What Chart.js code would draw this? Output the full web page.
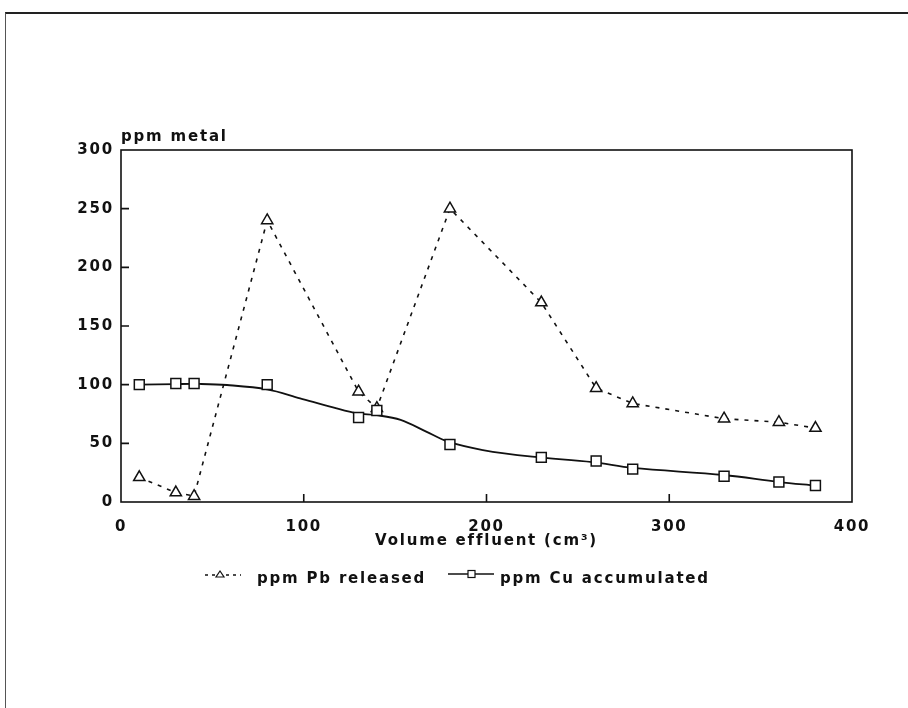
<!DOCTYPE html>
<html>
<head>
<meta charset="utf-8">
<script src="https://cdn.jsdelivr.net/npm/chart.js@4.4.1/dist/chart.umd.min.js"></script>
<style>
  html, body { margin: 0; padding: 0; background: #fff; }
  #wrap { position: relative; width: 908px; height: 708px; overflow: hidden;
          font-family: 'DejaVu Sans', Verdana, sans-serif; font-weight: bold; color: #111; }
  #frame { position: absolute; left: 5px; top: 12px; width: 920px; height: 720px;
           border-top: 2px solid #222; border-left: 1px solid #555; }
  canvas { position: absolute; left: 0; top: 0; }
  .txt { position: absolute; font-size: 15px; line-height: 16px; letter-spacing: 1.8px; white-space: nowrap; }
  .ico { position: absolute; }
</style>
</head>
<body>
<div id="wrap">
  <div id="frame"></div>
  <canvas id="chart" width="908" height="708"></canvas>
  <div class="txt" style="left:121px; top:128px;">ppm metal</div>

  <svg class="ico" style="left:203px; top:567px;" width="40" height="14">
    <line x1="2" y1="8" x2="38" y2="8" stroke="#111" stroke-width="1.3" stroke-dasharray="3,4"/>
    <path d="M17 4 L21 10 L13 10 Z" fill="#fff" stroke="#111" stroke-width="1.2"/>
  </svg>
  <div class="txt" style="left:257px; top:570px;">ppm Pb released</div>

  <svg class="ico" style="left:447px; top:567px;" width="48" height="14">
    <line x1="1" y1="7" x2="47" y2="7" stroke="#111" stroke-width="1.6"/>
    <rect x="21" y="3.5" width="7" height="7" fill="#fff" stroke="#111" stroke-width="1.2"/>
  </svg>
  <div class="txt" style="left:500px; top:570px;">ppm Cu accumulated</div>
</div>

<script>
// Volume effluent (cm3) at each sample
const volume = [10, 30, 40, 80, 130, 140, 180, 230, 260, 280, 330, 360, 380];
// ppm Pb released (triangles, dashed)
const pbReleased = [21, 8, 5, 240, 94, 80, 250, 170, 97, 84, 71, 68, 63];
// ppm Cu accumulated (squares)
const cuAccumulated = [100, 101, 101, 100, 72, 78, 49, 38, 35, 28, 22, 17, 14];
// smooth fitted curve drawn through the Cu data
const cuFitVolume = [10, 30, 43, 58, 80, 98, 116, 129, 140, 153, 167, 179, 198, 225, 258, 280, 330, 360, 380];
const cuFit = [100, 100.5, 100.6, 99.7, 96, 88.4, 80.7, 75.6, 74, 70, 60, 51.4, 44.3, 38.6, 34, 29, 23, 17, 14];

const xTicks = [0, 100, 200, 300, 400];
const yTicks = [0, 50, 100, 150, 200, 250, 300];

const ink = '#111';
const font = { family: "'DejaVu Sans', Verdana, sans-serif", size: 15, weight: 'bold' };

function pts(xs, ys) {
    return xs.map((x, i) => ({ x, y: ys[i] }));
}

// wide spacing of the old plotter lettering
const spacing = {
    id: 'spacing',
    beforeLayout(chart) { chart.ctx.letterSpacing = '1.8px'; },
    beforeDraw(chart) { chart.ctx.letterSpacing = '1.8px'; }
};

// plot box + ticks pointing inward
const frameTicks = {
    id: 'frameTicks',
    beforeDatasetsDraw(chart) {
        const { ctx, chartArea: a, scales: { x, y } } = chart;
        ctx.save();
        ctx.strokeStyle = ink;
        ctx.lineWidth = 1.6;
        ctx.strokeRect(a.left, a.top, a.right - a.left, a.bottom - a.top);
        ctx.beginPath();
        xTicks.slice(1, -1).forEach(v => {
            const px = x.getPixelForValue(v);
            ctx.moveTo(px, a.bottom);
            ctx.lineTo(px, a.bottom - 8);
        });
        yTicks.slice(1, -1).forEach(v => {
            const py = y.getPixelForValue(v);
            ctx.moveTo(a.left, py);
            ctx.lineTo(a.left + 8, py);
        });
        ctx.stroke();
        ctx.restore();
    }
};

new Chart(document.getElementById('chart'), {
    type: 'scatter',
    data: {
        datasets: [
            {
                label: 'ppm Pb released',
                data: pts(volume, pbReleased),
                showLine: true,
                borderColor: ink,
                borderWidth: 1.6,
                borderDash: [4, 6],
                pointStyle: 'triangle',
                pointRadius: 6.5,
                pointBorderWidth: 1.5,
                pointBackgroundColor: '#fff',
                pointBorderColor: ink,
                order: 2
            },
            {
                label: 'ppm Cu accumulated',
                data: pts(volume, cuAccumulated),
                showLine: false,
                pointStyle: 'rect',
                pointRadius: 7,
                pointBorderWidth: 1.5,
                pointBackgroundColor: '#fff',
                pointBorderColor: ink,
                order: 1
            },
            {
                label: 'Cu fit',
                data: pts(cuFitVolume, cuFit),
                showLine: true,
                borderColor: ink,
                borderWidth: 1.8,
                pointRadius: 0,
                tension: 0.35,
                order: 3
            }
        ]
    },
    options: {
        responsive: false,
        animation: false,
        layout: { padding: { left: 0, right: 56, top: 150, bottom: 156 } },
        plugins: {
            legend: { display: false },
            tooltip: { enabled: false }
        },
        scales: {
            x: {
                type: 'linear',
                min: 0,
                max: 400,
                afterBuildTicks: s => { s.ticks = xTicks.map(v => ({ value: v })); },
                afterFit: s => { s.height = 50; },
                grid: { display: false, drawTicks: false },
                border: { display: false },
                ticks: { color: ink, font, padding: 16, maxRotation: 0 },
                title: {
                    display: true,
                    text: 'Volume effluent (cm³)',
                    color: ink,
                    font,
                    padding: { top: 0, bottom: 2 }
                }
            },
            y: {
                min: 0,
                max: 300,
                afterBuildTicks: s => { s.ticks = yTicks.map(v => ({ value: v })); },
                afterFit: s => { s.width = 121; },
                grid: { display: false, drawTicks: false },
                border: { display: false },
                ticks: { color: ink, font, padding: 7 }
            }
        }
    },
    plugins: [spacing, frameTicks]
});
</script>
</body>
</html>
